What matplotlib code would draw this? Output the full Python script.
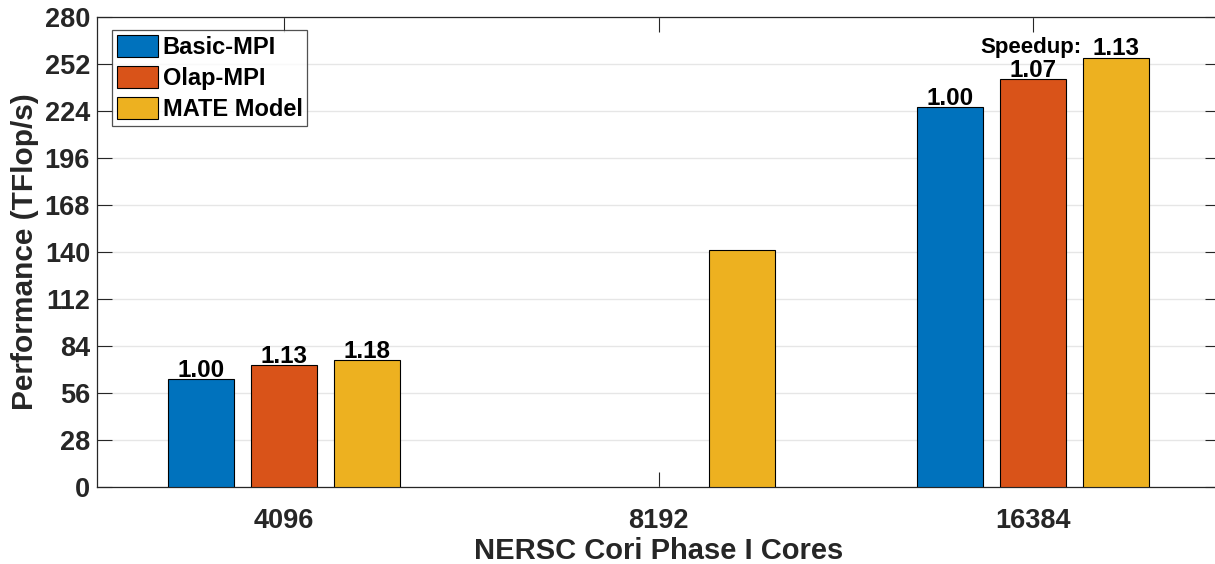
import numpy as np
import matplotlib
matplotlib.use('Agg')
import matplotlib.pyplot as plt

# Data
cores = ['4096', '8192', '16384']
series = ['Basic-MPI', 'Olap-MPI', 'MATE Model']
basic_mpi = [64.3, np.nan, 226.3]
olap_mpi = [72.5, np.nan, 243.0]
mate_model = [75.6, 141.0, 255.6]
speedup_labels = [['1.00', '1.13', '1.18'],
                  ['', '', ''],
                  ['1.00', '1.07', '1.13']]
yticks = np.arange(0, 281, 28)

colors = ['#0072BD', '#D95319', '#EDB120']
axis_col = '#262626'

plt.rcParams['font.family'] = ['Liberation Sans', 'DejaVu Sans']
plt.rcParams['font.weight'] = 'bold'

fig = plt.figure(figsize=(12.15, 5.64), dpi=100)
# axes run slightly past the right edge, as in the reference (cropped box)
ax = fig.add_axes([0.0798, 0.1365, 0.9247, 0.8334])

x = np.arange(1, len(cores) + 1)
width = 0.177
offset = 0.222
values = [basic_mpi, olap_mpi, mate_model]

for i, (name, vals) in enumerate(zip(series, values)):
    pos = x + (i - 1) * offset
    ax.bar(pos, vals, width, color=colors[i], edgecolor='black',
           linewidth=0.8, label=name, zorder=3)
    for j, v in enumerate(vals):
        lab = speedup_labels[j][i]
        if lab and not np.isnan(v):
            ax.text(pos[j], v - 1.5, lab, ha='center', va='bottom',
                    fontsize=17.5, fontweight='bold', color='black', zorder=4)

# speedup annotation on the last group
ax.text(x[2] + 0.13, 258.5, 'Speedup:', ha='right', va='baseline',
        fontsize=16, fontweight='bold', color='black', zorder=4)

ax.set_xlim(0.5, 3.5)
ax.set_ylim(0, 280)
ax.set_xticks(x)
ax.set_xticklabels(cores)
ax.set_yticks(yticks)
ax.tick_params(axis='both', direction='in', length=11, width=0.8,
               colors=axis_col, labelsize=19.5, top=True, right=True)
ax.tick_params(axis='x', pad=15)
ax.tick_params(axis='y', pad=5)
for lbl in ax.get_xticklabels() + ax.get_yticklabels():
    lbl.set_fontweight('bold')

for s in ax.spines.values():
    s.set_color(axis_col)
    s.set_linewidth(0.9)

ax.yaxis.grid(True, color='#e6e6e6', linewidth=1.0, zorder=0)
ax.set_axisbelow(True)

ax.set_xlabel('NERSC Cori Phase I Cores', fontsize=21, fontweight='bold',
              color=axis_col, labelpad=2)
ax.set_ylabel('Performance (TFlop/s)', fontsize=21.5, fontweight='bold',
              color=axis_col, labelpad=4)

leg = ax.legend(loc='upper left', bbox_to_anchor=(0.0134, 0.972), fontsize=17,
                frameon=True, fancybox=False, handlelength=1.75,
                handleheight=1.05, handletextpad=0.2, labelspacing=0.3,
                borderpad=0.2, borderaxespad=0)
leg.get_frame().set_edgecolor(axis_col)
leg.get_frame().set_linewidth(0.9)
for t in leg.get_texts():
    t.set_fontweight('bold')
    t.set_color('black')

fig.savefig('out.png', dpi=100)
